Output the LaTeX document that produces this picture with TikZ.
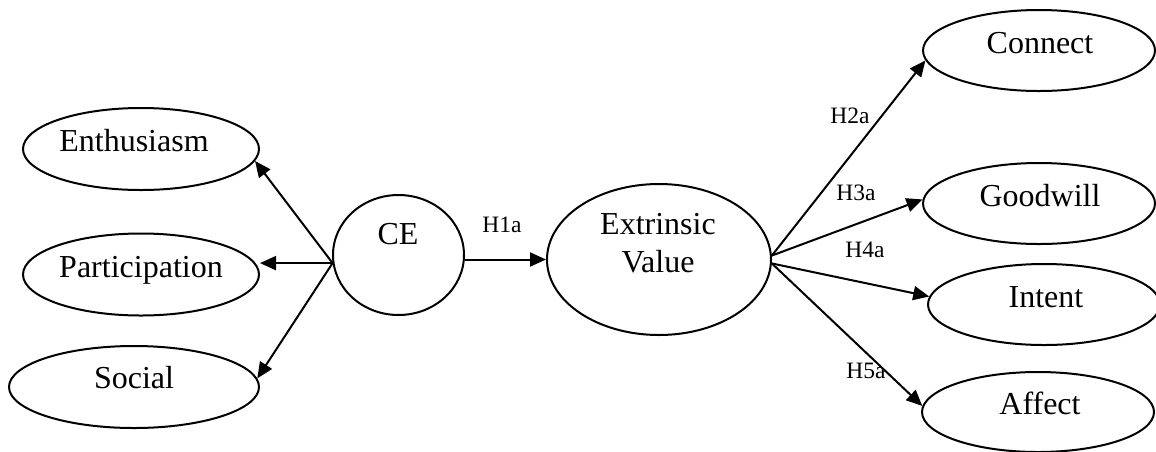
\documentclass[tikz,border=0pt]{standalone}
\usepackage{fontspec}
\setmainfont{Liberation Serif}
\usetikzlibrary{arrows.meta,shapes.geometric}
\tikzset{
  oval/.style={draw, ellipse, line width=2pt, inner sep=0pt},
  word/.style={anchor=base, inner sep=0pt, font=\fontsize{32}{38}\selectfont},
  hyp/.style={anchor=base, inner sep=0pt, font=\fontsize{23.5}{28}\selectfont},
  arr/.style={line width=2pt, -{Triangle[length=16pt,width=14pt]}},
}
\begin{document}
\begin{tikzpicture}[x=1pt,y=-1pt]
\useasboundingbox (0,0) rectangle (1156,451);
\clip (0,0) rectangle (1156,451);

% dimensions of customer engagement
\node[oval, minimum width=236pt, minimum height=82pt] (enth) at (141,149) {};
\node[oval, minimum width=236pt, minimum height=82pt] (part) at (141,274.5) {};
\node[oval, minimum width=250pt, minimum height=82pt] (soc)  at (134,387) {};
\node[word] (enth-t) at (134,151) {Enthusiasm};
\node[word] (part-t) at (141,277) {Participation};
\node[word] (soc-t)  at (134,388) {Social};

% central constructs
\node[oval, minimum width=131pt, minimum height=120pt] (ce) at (398.5,255) {};
\node[word] (ce-t) at (398,244) {CE};
\node[oval, minimum width=224pt, minimum height=151pt] (ext) at (659,259.5) {};
\node[word, anchor=center, align=center] (ext-t) at (658,243.6) {Extrinsic\\Value};

% outcomes
\node[oval, minimum width=232pt, minimum height=81pt] (con)  at (1039,50.5) {};
\node[oval, minimum width=232pt, minimum height=81pt] (good) at (1039,203.5) {};
\node[oval, minimum width=232pt, minimum height=81pt] (int)  at (1044,304.5) {};
\node[oval, minimum width=232pt, minimum height=80pt] (aff)  at (1038,412) {};
\node[word] (con-t)  at (1040,53) {Connect};
\node[word] (good-t) at (1040,206) {Goodwill};
\node[word] (int-t)  at (1046,307) {Intent};
\node[word] (aff-t)  at (1040,414) {Affect};

% CE reflected in its dimensions
\draw[arr] (ce.187) -- (enth.-6);
\draw[arr] (ce.187) -- (ce.187 -| part.east);
\draw[arr] (ce.187) -- (soc.4);

% hypothesised paths
\draw[arr] (ce.east |- ext.west) -- (ext.west);
\draw[arr] (ext.2)  -- (con.185);
\draw[arr] (ext.2)  -- (good.178);
\draw[arr] (ext.-2) -- (int.176);
\draw[arr] (ext.-2) -- (aff.177);

\node[hyp] (h1) at (502,232) {H1a};
\node[hyp] (h2) at (850,123) {H2a};
\node[hyp] (h3) at (856,200) {H3a};
\node[hyp] (h4) at (865,257) {H4a};
\node[hyp] (h5) at (866,378) {H5a};
\end{tikzpicture}
\end{document}
